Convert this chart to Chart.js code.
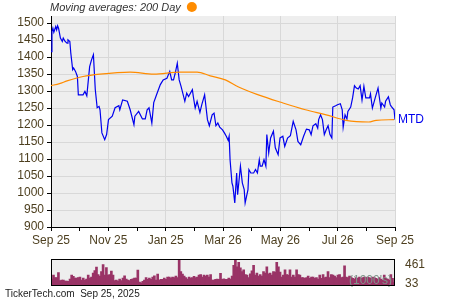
<!DOCTYPE html>
<html>
<head>
<meta charset="utf-8">
<script src="https://cdn.jsdelivr.net/npm/chart.js@4.4.1/dist/chart.umd.min.js"></script>
<style>
  html, body { margin: 0; padding: 0; background: #fff; }
  #wrap { position: relative; width: 450px; height: 300px; }
  #price { position: absolute; left: 0; top: 0; }
  #volume { position: absolute; left: 0; top: 250px; }
</style>
</head>
<body>
<div id="wrap">
  <canvas id="price" width="450" height="250"></canvas>
  <canvas id="volume" width="450" height="50"></canvas>
</div>
<script>
// values (one year, day 0..365)
let xTickLabels = ['Sep 25', 'Nov 25', 'Jan 25', 'Mar 26', 'May 26', 'Jul 26', 'Sep 25'];

let priceDays = [0, 1, 2, 3, 5, 6, 7, 8, 10, 12, 13, 15, 17, 18, 20, 21, 23, 24, 26, 28, 29,
  34, 36, 38, 41, 43, 45, 47, 49, 51, 52, 54, 57, 59, 61, 65, 68, 72, 73, 76, 81, 84, 88, 89,
  93, 97, 100, 102, 104, 107, 109, 112, 116, 119, 123, 126, 128, 130, 132, 134, 136, 138, 142,
  144, 146, 150, 151, 153, 155, 158, 160, 163, 166, 168, 171, 173, 175, 177, 179, 182, 184, 186,
  188, 189, 190, 192, 193, 195, 197, 198, 201, 203, 205, 206, 209, 210, 212, 215, 217, 219, 221,
  222, 224, 226, 228, 229, 231, 233, 236, 238, 241, 243, 246, 248, 251, 254, 257, 260, 262, 265,
  268, 271, 274, 276, 278, 281, 283, 284, 286, 288, 290, 292, 294, 296, 298, 299, 302, 304, 307,
  309, 310, 312, 314, 315, 318, 320, 322, 324, 326, 328, 330, 332, 334, 338, 339, 341, 344, 347,
  350, 351, 354, 355, 358, 360, 361, 364, 365];
let priceValues = [1416, 1475, 1485, 1473, 1490, 1480, 1492, 1485, 1456, 1446, 1456, 1446, 1441, 1451, 1446, 1412, 1363, 1368, 1358, 1343, 1289,
  1289, 1299, 1286, 1372, 1392, 1407, 1304, 1251, 1255, 1245, 1177, 1157, 1172, 1216, 1226, 1251, 1257, 1245, 1274, 1270, 1245, 1201, 1226,
  1240, 1218, 1218, 1245, 1251, 1206, 1266, 1289, 1319, 1333, 1338, 1358, 1333, 1333, 1355, 1382, 1333, 1314, 1270,
  1294, 1284, 1304, 1284, 1250, 1270, 1237, 1260, 1289, 1216, 1198, 1230, 1235, 1198, 1206, 1194, 1186, 1177, 1167,
  1155, 1167, 1098, 1030, 1020, 971, 1059, 995, 1079, 1030, 1010, 971, 1010, 1069, 1059, 1059, 1069, 1059, 1098,
  1079, 1079, 1098, 1079, 1172, 1118, 1162, 1182, 1133, 1113, 1162, 1167, 1137, 1162, 1169, 1211, 1186, 1152, 1142,
  1167, 1188, 1186, 1172, 1198, 1204, 1191, 1216, 1230, 1216, 1172, 1186, 1198, 1172, 1162, 1253, 1257, 1260, 1263,
  1245, 1194, 1230, 1218, 1240, 1253, 1280, 1316, 1309, 1306, 1316, 1274, 1314, 1280, 1280, 1292, 1250, 1280, 1309,
  1250, 1265, 1253, 1270, 1283, 1260, 1255, 1245, 1216];

let maDays = [0, 9, 17, 34, 52, 84, 109, 137, 155, 169, 185, 199, 220, 244, 270, 292, 313, 337, 345, 364];
let maValues = [1316, 1322, 1330, 1343, 1350, 1356, 1350, 1356, 1356, 1345, 1333, 1312, 1289, 1267, 1245, 1230, 1214, 1209, 1214, 1216];

// volume in thousands
let volume = [138, 228, 172, 172, 290, 104, 117, 117, 90, 90, 83, 138, 228, 200, 160, 160, 172, 186, 117, 160,
  117, 138, 228, 160, 186, 276, 338, 414, 241, 207, 310, 476, 228, 407, 228, 241, 324, 228, 104, 117,
  90, 138, 104, 160, 214, 138, 117, 104, 131, 145, 160, 160, 345, 69, 48, 83, 117, 172, 131, 160,
  131, 186, 214, 117, 255, 117, 131, 131, 160, 131, 186, 186, 160, 186, 172, 207, 172, 600, 310, 255,
  207, 172, 138, 186, 160, 172, 200, 172, 186, 228, 241, 186, 228, 207, 228, 186, 241, 117, 117, 131,
  138, 131, 269, 131, 145, 131, 131, 160,
  136, 207, 457, 585, 421, 528, 400, 314, 350, 243, 228, 171, 257, 328, 457, 228, 278, 207, 243, 207,
  314, 278, 421, 257, 278, 228, 314, 300, 528, 421, 300, 186, 228, 350, 243, 228, 350, 186, 228, 186,
  350, 243, 228, 171, 171, 157, 171, 207, 157, 186, 186, 157, 171, 136, 228, 157, 243, 171, 186, 314,
  171, 243, 228, 207, 171, 228, 243, 171, 186, 443, 186, 171, 207, 186, 157, 136, 171, 157, 186, 157,
  171, 186, 171, 186, 171, 157, 186, 171, 157, 136, 171, 136, 114, 228, 157, 136, 114, 243, 157, 64];
let volumeTicks = [33, 461];

let title = 'Moving averages: 200 Day';
let symbol = 'MTD';

let textColor = '#4d3f1f';
Chart.defaults.font.family = "'Liberation Sans', Arial, sans-serif";

// grey plot background
let plotBg = {
  id: 'plotBg',
  beforeDraw(chart) {
    let a = chart.chartArea, c = chart.ctx;
    c.save();
    c.fillStyle = '#eeeeee';
    c.fillRect(a.left, a.top, a.right - a.left, a.bottom - a.top);
    c.restore();
  }
};

let priceLabels = {
  id: 'priceLabels',
  afterDraw(chart) {
    let c = chart.ctx, a = chart.chartArea;
    c.save();
    c.font = "italic 11px 'Liberation Sans', Arial, sans-serif";
    c.fillStyle = '#333';
    c.textBaseline = 'middle';
    c.fillText(title, 50, 8);
    let w = c.measureText(title).width;
    c.fillStyle = '#ff8c00';
    c.beginPath();
    c.arc(50 + w + 11, 7, 5, 0, Math.PI * 2);
    c.fill();
    // symbol at the last price
    let y = chart.scales.y.getPixelForValue(priceValues[priceValues.length - 1]);
    c.font = "12px 'Liberation Sans', Arial, sans-serif";
    c.fillStyle = '#0000ee';
    c.fillText(symbol, a.right + 3, y);
    c.restore();
  }
};

let monthTicks = [];
for (let i = 0; i <= 12; i++) monthTicks.push(i * 365 / 12);

new Chart(document.getElementById('price'), {
  type: 'line',
  data: {
    datasets: [{
      data: maDays.map((d, i) => ({ x: d, y: maValues[i] })),
      borderColor: '#ff8c00',
      borderWidth: 1.2,
      pointRadius: 0,
      cubicInterpolationMode: 'monotone'
    }, {
      data: priceDays.map((d, i) => ({ x: d, y: priceValues[i] })),
      borderColor: '#0000ee',
      borderWidth: 1.2,
      pointRadius: 0
    }]
  },
  options: {
    animation: false,
    responsive: false,
    layout: { padding: { left: 0, right: 55, top: 16, bottom: 0 } },
    plugins: { legend: { display: false }, tooltip: { enabled: false } },
    scales: {
      x: {
        type: 'linear', min: 0, max: 365,
        afterBuildTicks: s => { s.ticks = monthTicks.map(v => ({ value: v })); },
        afterFit: s => { s.height = 23; },
        ticks: {
          autoSkip: false, maxRotation: 0, padding: 2,
          color: textColor, font: { size: 12 },
          callback: (v, i) => i % 2 === 0 ? xTickLabels[i / 2] : ''
        },
        grid: {
          color: ctx => (ctx.index % 2 === 0 && ctx.index > 0) ? '#d8d8d8' : 'transparent',
          tickColor: '#000', tickLength: 4
        },
        border: { color: '#000', width: 1 }
      },
      y: {
        min: 900, max: 1521,
        afterBuildTicks: s => {
          let t = [];
          for (let v = 900; v <= 1500; v += 25) t.push({ value: v });
          s.ticks = t;
        },
        afterFit: s => { s.width = 51; },
        ticks: {
          padding: 3, color: textColor, font: { size: 12 },
          callback: v => v % 50 === 0 ? v : ''
        },
        grid: {
          color: ctx => (ctx.tick && ctx.tick.value % 50 === 0 && ctx.tick.value > 900) ? '#d8d8d8' : 'transparent',
          tickColor: '#000', tickLength: 4
        },
        border: { color: '#000', width: 1 }
      }
    }
  },
  plugins: [plotBg, priceLabels]
});

let volumeLabels = {
  id: 'volumeLabels',
  afterDraw(chart) {
    let c = chart.ctx, a = chart.chartArea;
    c.save();
    c.font = "12px 'Liberation Sans', Arial, sans-serif";
    c.fillStyle = '#7f958a';
    c.textAlign = 'right';
    c.textBaseline = 'middle';
    c.fillText("(1000's)", a.right - 3, 31);
    c.strokeStyle = '#000';
    c.lineWidth = 1;
    c.strokeRect(Math.round(a.left) + 0.5, Math.round(a.top) + 0.5, Math.round(a.right - a.left) - 1, Math.round(a.bottom - a.top));
    c.textAlign = 'left';
    c.fillStyle = '#222';
    c.font = "10px 'Liberation Sans', Arial, sans-serif";
    c.fillText('TickerTech.com  Sep 25, 2025', 5, 44);
    c.restore();
  }
};

new Chart(document.getElementById('volume'), {
  type: 'bar',
  data: {
    labels: volume.map((v, i) => i),
    datasets: [{
      data: volume,
      backgroundColor: '#993366',
      barThickness: 2,
      borderWidth: 0
    }]
  },
  options: {
    animation: false,
    responsive: false,
    layout: { padding: { left: 51, right: 0, top: 6, bottom: 15 } },
    plugins: { legend: { display: false }, tooltip: { enabled: false } },
    scales: {
      x: { display: false, offset: true },
      y: {
        position: 'right', min: 0, max: 600,
        afterBuildTicks: s => { s.ticks = volumeTicks.map(v => ({ value: v })); },
        afterFit: s => { s.width = 55; },
        ticks: { padding: 2, color: textColor, font: { size: 12 } },
        grid: { display: false },
        border: { display: false }
      }
    }
  },
  plugins: [plotBg, volumeLabels]
});
</script>
</body>
</html>
